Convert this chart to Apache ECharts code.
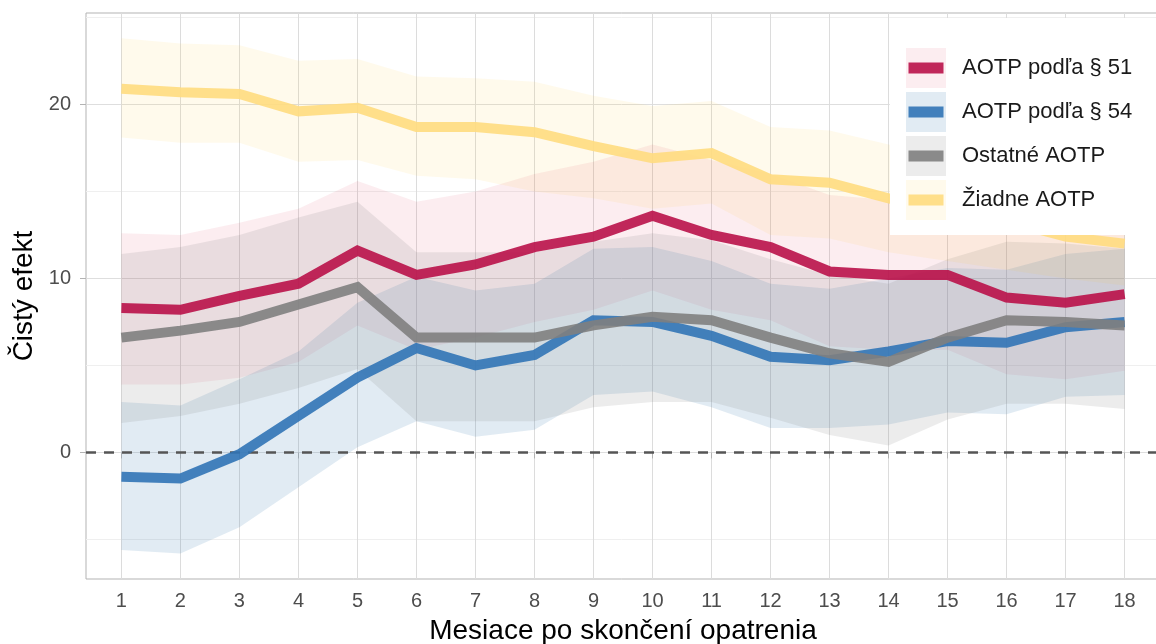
<!DOCTYPE html>
<html>
<head>
<meta charset="utf-8">
<script src="https://cdn.jsdelivr.net/npm/echarts@6/dist/echarts.min.js"></script>
<style>
  html, body { margin: 0; padding: 0; background: #ffffff; }
  #chart { width: 1156px; height: 644px; }
</style>
</head>
<body>
<div id="chart"></div>
<script>
// ---- data ----
const months = [1, 2, 3, 4, 5, 6, 7, 8, 9, 10, 11, 12, 13, 14, 15, 16, 17, 18];
const seriesNames = ['AOTP podľa § 51', 'AOTP podľa § 54', 'Ostatné AOTP', 'Žiadne AOTP'];

const est51 = [8.3, 8.2, 9.0, 9.7, 11.6, 10.2, 10.8, 11.8, 12.4, 13.6, 12.5, 11.8, 10.4, 10.2, 10.2, 8.9, 8.6, 9.1];
const hi51  = [12.6, 12.5, 13.2, 14.0, 15.6, 14.4, 15.0, 16.0, 16.7, 17.7, 16.8, 16.0, 14.8, 14.5, 14.5, 13.3, 12.9, 13.4];
const lo51  = [3.9, 3.9, 4.3, 5.2, 7.3, 5.9, 6.6, 7.5, 8.2, 9.3, 8.2, 7.6, 6.1, 5.9, 5.9, 4.5, 4.2, 4.7];

const est54 = [-1.4, -1.5, -0.1, 2.1, 4.3, 6.0, 5.0, 5.6, 7.6, 7.5, 6.7, 5.5, 5.3, 5.8, 6.4, 6.3, 7.2, 7.5];
const hi54  = [2.9, 2.7, 4.2, 5.8, 8.6, 10.1, 9.3, 9.7, 11.7, 11.8, 11.0, 9.7, 9.4, 10.0, 10.6, 10.5, 11.4, 11.7];
const lo54  = [-5.6, -5.8, -4.3, -2.0, 0.3, 1.8, 0.9, 1.3, 3.3, 3.5, 2.6, 1.4, 1.4, 1.6, 2.3, 2.2, 3.2, 3.3];

const estOst = [6.6, 7.0, 7.5, 8.5, 9.5, 6.6, 6.6, 6.6, 7.3, 7.8, 7.6, 6.6, 5.7, 5.2, 6.6, 7.6, 7.5, 7.3];
const hiOst  = [11.4, 11.8, 12.5, 13.5, 14.4, 11.5, 11.5, 11.5, 12.1, 12.6, 12.2, 11.1, 10.2, 9.7, 11.1, 12.1, 12.0, 11.7];
const loOst  = [1.7, 2.1, 2.8, 3.7, 4.8, 1.8, 1.8, 1.8, 2.6, 2.9, 2.9, 2.0, 1.0, 0.4, 1.9, 2.8, 2.8, 2.5];

const estZ = [20.9, 20.7, 20.6, 19.6, 19.8, 18.7, 18.7, 18.4, 17.6, 16.9, 17.2, 15.7, 15.5, 14.6, 14.0, 13.3, 12.4, 12.0];
const hiZ  = [23.8, 23.5, 23.4, 22.5, 22.6, 21.6, 21.5, 21.3, 20.5, 19.9, 20.2, 18.7, 18.5, 17.7, 17.1, 16.5, 15.6, 15.0];
const loZ  = [18.1, 17.8, 17.8, 16.7, 16.8, 15.9, 15.7, 15.0, 14.6, 14.0, 14.3, 12.5, 12.3, 11.5, 11.0, 10.5, 10.0, 9.6];

const yMajorTicks = [0, 10, 20];
const yMinorTicks = [-5, 5, 15, 25];
const zeroLine = [0];

// ---- styles ----
const lineColors = ['rgba(185,17,73,0.9)', 'rgba(49,116,182,0.9)', 'rgba(127,127,127,0.9)', 'rgba(255,220,127,0.9)'];
const bandColors = ['rgba(220,20,60,0.08)', 'rgba(70,130,180,0.16)', 'rgba(128,128,128,0.15)', 'rgba(255,200,40,0.09)'];
const FONT = 'Liberation Sans, Arial, sans-serif';

const groups = [
  { est: est51, lo: lo51, hi: hi51 },
  { est: est54, lo: lo54, hi: hi54 },
  { est: estOst, lo: loOst, hi: hiOst },
  { est: estZ, lo: loZ, hi: hiZ }
];

const series = [];
groups.forEach((g, i) => {
  series.push({
    type: 'custom', name: 'band' + i, silent: true, z: 1,
    data: months.map((m, k) => [m, g.lo[k], g.hi[k]]),
    encode: { x: 0, y: [1, 2] },
    renderItem: function (params, api) {
      if (params.dataIndex !== 0) return null;
      const pts = [];
      for (let k = 0; k < months.length; k++) pts.push(api.coord([months[k], g.hi[k]]));
      for (let k = months.length - 1; k >= 0; k--) pts.push(api.coord([months[k], g.lo[k]]));
      return { type: 'polygon', shape: { points: pts }, style: { fill: bandColors[i], stroke: null } };
    }
  });
});
groups.forEach((g, i) => {
  const s = {
    type: 'line', name: seriesNames[i],
    data: months.map((m, k) => [m, g.est[k]]),
    symbol: 'none', showSymbol: false,
    lineStyle: { color: lineColors[i], width: 10, join: 'miter', cap: 'butt' },
    itemStyle: { color: lineColors[i] },
    z: 3, silent: true
  };
  if (i === 0) {
    s.markLine = {
      silent: true, symbol: ['none', 'none'], z: 2, animation: false,
      label: { show: false },
      lineStyle: { type: [10, 8], color: '#555555', width: 2.5 },
      data: zeroLine.map(v => ({ yAxis: v }))
    };
  }
  series.push(s);
});

const chart = echarts.init(document.getElementById('chart'), null, { renderer: 'canvas' });
chart.setOption({
  animation: false,
  backgroundColor: '#ffffff',
  grid: {
    left: 86, top: 13, width: 1074, height: 566, show: true,
    borderColor: '#b3b3b3', borderWidth: 1, backgroundColor: 'transparent',
    outerBoundsMode: 'none', containLabel: false
  },
  xAxis: {
    type: 'value', min: 0.4, max: 18.6,
    name: 'Mesiace po skončení opatrenia', nameLocation: 'middle', nameGap: 38, nameMoveOverlap: false,
    nameTextStyle: { fontSize: 28, color: '#000000', fontFamily: FONT },
    axisLine: { show: false },
    axisTick: { show: true, length: 6, customValues: months, lineStyle: { color: '#b3b3b3', width: 1 } },
    axisLabel: { customValues: months, fontSize: 20, color: '#4d4d4d', fontFamily: FONT, margin: 12 },
    splitLine: { show: true, lineStyle: { color: '#dcdcdc', width: 1 } }
  },
  yAxis: [
    {
      type: 'value', min: -7.27, max: 25.25,
      name: 'Čistý efekt', nameLocation: 'middle', nameGap: 48, nameMoveOverlap: false,
      nameTextStyle: { fontSize: 28, color: '#000000', fontFamily: FONT },
      axisLine: { show: false },
      axisTick: { show: true, length: 6, customValues: yMajorTicks, lineStyle: { color: '#b3b3b3', width: 1 } },
      axisLabel: { customValues: yMajorTicks, fontSize: 20, color: '#4d4d4d', fontFamily: FONT, margin: 15 },
      splitLine: { show: true, lineStyle: { color: '#dedede', width: 1 } }
    },
    {
      type: 'value', min: -7.27, max: 25.25, position: 'left',
      axisLine: { show: false },
      axisTick: { show: false, customValues: yMinorTicks },
      axisLabel: { show: false, customValues: yMinorTicks },
      splitLine: { show: true, lineStyle: { color: '#efefef', width: 1 } }
    }
  ],
  legend: [
    {
      left: 890, top: 18, orient: 'vertical', icon: 'rect',
      itemWidth: 40, itemHeight: 40, itemGap: 4,
      padding: [30, 40, 15, 16], backgroundColor: '#ffffff',
      selectedMode: false, z: 4,
      textStyle: { fontSize: 22, color: '#1a1a1a', fontFamily: FONT, padding: [0, 0, 0, 11] },
      data: seriesNames.map((n, i) => ({ name: n, itemStyle: { color: bandColors[i], borderWidth: 0 } }))
    },
    {
      left: 890, top: 18, orient: 'vertical', icon: 'rect',
      itemWidth: 35, itemHeight: 11, itemGap: 4,
      padding: [30, 40, 15, 18.5], backgroundColor: 'transparent',
      selectedMode: false, z: 5,
      textStyle: { fontSize: 22, lineHeight: 40, color: 'rgba(0,0,0,0)', fontFamily: FONT, padding: [0, 0, 0, 11] },
      data: seriesNames.map((n, i) => ({ name: n, itemStyle: { color: lineColors[i], borderWidth: 0 } }))
    }
  ],
  series: series
});
</script>
</body>
</html>
